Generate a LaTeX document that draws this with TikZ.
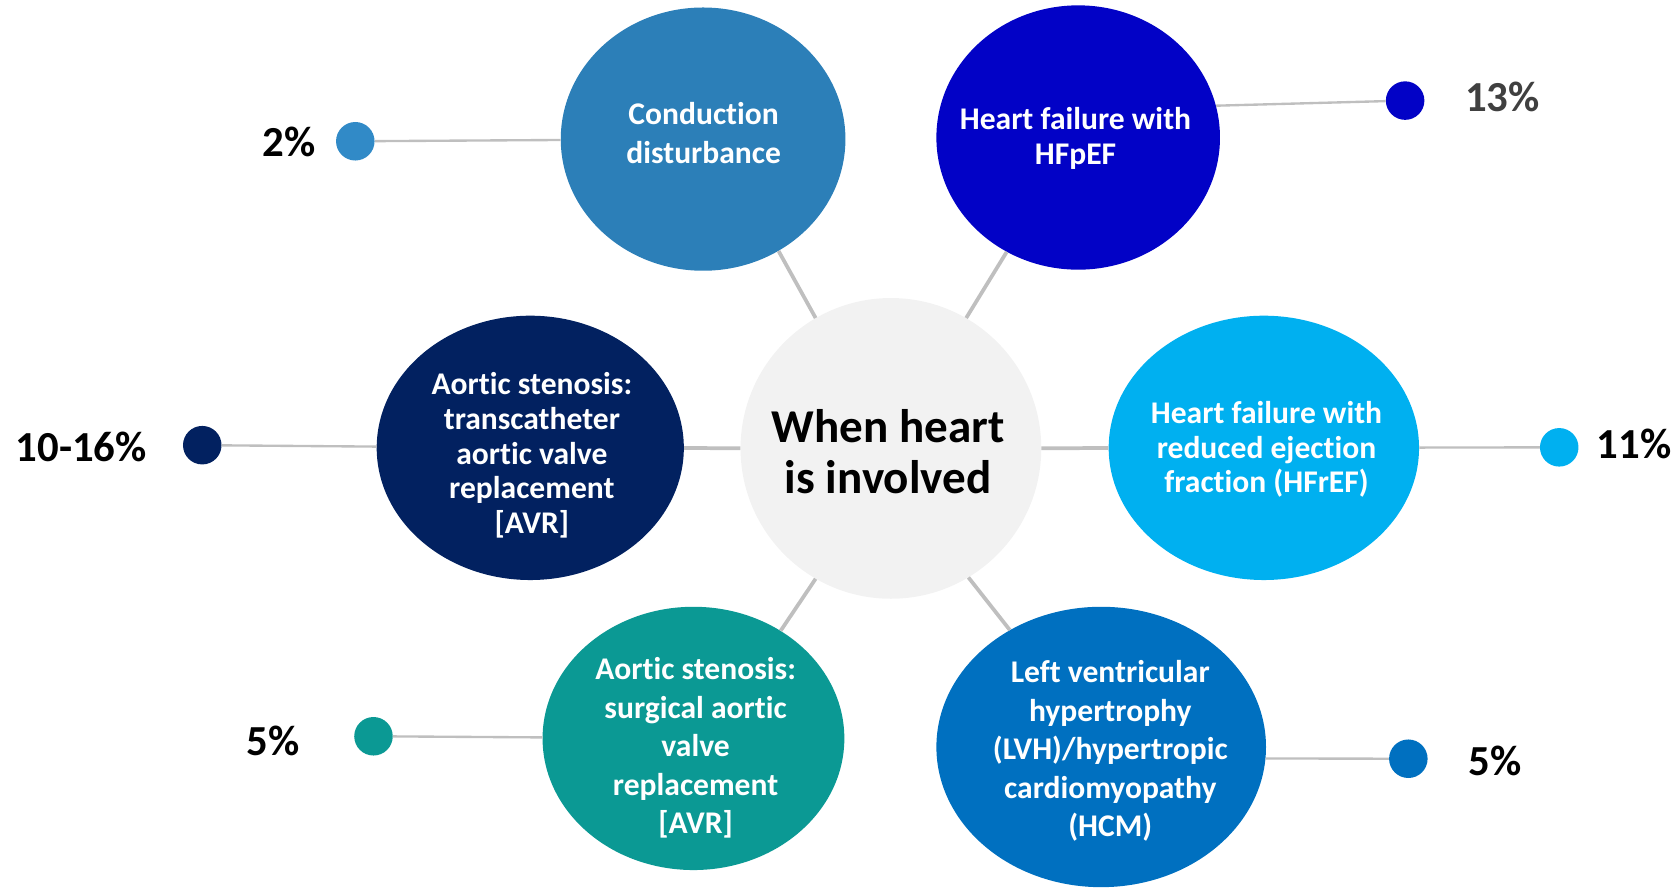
\documentclass[tikz,border=0pt]{standalone}
\usepackage{fontspec}
\setmainfont{Carlito}[Ligatures=NoCommon]
\usetikzlibrary{shapes.geometric}
\definecolor{condc}{HTML}{2C7FB8}
\definecolor{condd}{HTML}{318AC7}
\definecolor{hfpc}{HTML}{0202C6}
\definecolor{navyc}{HTML}{022160}
\definecolor{hfrc}{HTML}{00B0F0}
\definecolor{tealc}{HTML}{0B9994}
\definecolor{lvhc}{HTML}{0070C0}
\definecolor{ctrc}{HTML}{F2F2F2}
\definecolor{lineg}{HTML}{BFBFBF}
\definecolor{darkg}{HTML}{404040}
\begin{document}
\begin{tikzpicture}[x=1pt,y=-1pt,
  bubble/.style={ellipse, inner sep=0pt},
  btext/.style={text=white, align=center, inner sep=0pt,
    font=\bfseries\fontsize{29.5}{36}\selectfont},
  tight/.style={font=\bfseries\fontsize{29.5}{32.5}\selectfont},
  pdot/.style={circle, inner sep=0pt, minimum size=36pt},
  pct/.style={font=\bfseries\fontsize{40}{46}\selectfont},
  spoke/.style={draw=lineg, line width=3.5pt},
  link/.style={draw=lineg, line width=2.2pt}]
\useasboundingbox (0,0) rectangle (1568,829);
% centre
\node[bubble, fill=ctrc, minimum width=281pt, minimum height=281pt] (ctr) at (832.5,419) {};
\node[align=center, inner sep=0pt, font=\bfseries\fontsize{44}{48}\selectfont] (ctrt) at (830,422) {When heart\\is involved};
% bubbles
\node[bubble, fill=condc, minimum width=266pt, minimum height=246pt] (cond) at (657,130) {};
\node[bubble, fill=hfpc, minimum width=265pt, minimum height=247pt] (hfp) at (1007.5,128.5) {};
\node[bubble, fill=navyc, minimum width=287pt, minimum height=247pt] (avr) at (495.5,418.5) {};
\node[bubble, fill=hfrc, minimum width=290pt, minimum height=247pt] (hfr) at (1181,418.5) {};
\node[bubble, fill=tealc, minimum width=282pt, minimum height=246pt] (sav) at (648,690) {};
\node[bubble, fill=lvhc, minimum width=308pt, minimum height=262pt] (lvh) at (1029,698) {};
% bubble texts
\node[btext] (condt) at (657.5,124.5) {Conduction\\disturbance};
\node[btext, tight] (hfpt) at (1005,129) {Heart failure with\\HFpEF};
\node[btext, tight] (avrt) at (497,425.5) {Aortic stenosis:\\transcatheter\\aortic valve\\replacement\\{[AVR]}};
\node[btext, tight] (hfrt) at (1183.5,420) {Heart failure with\\reduced ejection\\fraction (HFrEF)};
\node[btext] (savt) at (650,699) {Aortic stenosis:\\surgical aortic\\valve\\replacement\\{[AVR]}};
\node[btext] (lvht) at (1037.5,702) {Left ventricular\\hypertrophy\\(LVH)/hypertropic\\cardiomyopathy\\(HCM)};
% dots
\node[pdot, fill=condd] (d2) at (332,132) {};
\node[pdot, fill=hfpc] (d13) at (1313,94) {};
\node[pdot, fill=navyc] (d1016) at (189,416) {};
\node[pdot, fill=hfrc] (d11) at (1457,418) {};
\node[pdot, fill=tealc] (d5l) at (349,688) {};
\node[pdot, fill=lvhc] (d5r) at (1316,709) {};
% labels
\node[pct] (l2) at (270,133) {2\%};
\node[pct, text=darkg] (l13) at (1404,91) {13\%};
\node[pct] (l1016) at (76,418) {10-16\%};
\node[pct] (l11) at (1527,415) {11\%};
\node[pct] (l5l) at (255,692) {5\%};
\node[pct] (l5r) at (1397,711) {5\%};
% spokes
\draw[spoke] (ctr.120) -- (cond.-56);
\draw[spoke] (ctr.60) -- (hfp.-122);
\draw[spoke] (ctr) -- (avr);
\draw[spoke] (ctr) -- (hfr);
\draw[spoke] (ctr.-120) -- (sav.51);
\draw[spoke] (ctr.-59) -- (lvh.128);
% links
\draw[link] (d2) -- (cond);
\draw[link] (hfp.13) -- (d13);
\draw[link] (d1016) -- (avr);
\draw[link] (hfr) -- (d11);
\draw[link] (d5l) -- (sav);
\draw[link] (lvh.-4) -- (d5r);
\end{tikzpicture}
\end{document}
